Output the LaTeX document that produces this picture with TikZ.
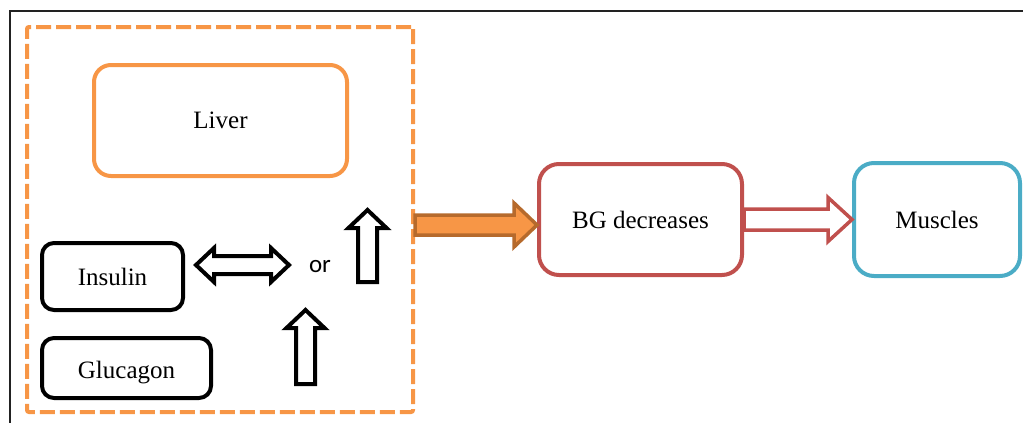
\documentclass[tikz,border=0pt]{standalone}
\usepackage{fontspec}
\setmainfont{Liberation Serif}
\newfontfamily\orfont{Carlito}
\usetikzlibrary{calc}
\definecolor{accorange}{HTML}{F79646}
\definecolor{darkorng}{HTML}{B66A2C}
\definecolor{accred}{HTML}{C0504D}
\definecolor{accblue}{HTML}{4BACC6}
\definecolor{framegray}{HTML}{222222}
\tikzset{
  box/.style={draw, line width=4pt, inner sep=0pt, font=\fontsize{25}{30}\selectfont, align=center},
  hollowarrow/.style={draw=black, fill=white, line width=4pt, line join=miter},
}
\begin{document}
\begin{tikzpicture}[x=1pt, y=-1pt]
\useasboundingbox (0,0) rectangle (1023,423);
% outer frame (partially visible)
\coordinate (fbl) at (10,423);
\coordinate (ftl) at (10,10.5);
\coordinate (ftr) at (1023,10.5);
\draw[framegray, line width=2pt] (fbl) -- (ftl) -- (ftr);
% dashed group
\node[draw=accorange, line width=4pt, dash pattern=on 15pt off 5pt, rounded corners=2pt,
      minimum width=386pt, minimum height=385pt, inner sep=0pt] (group) at (220,219.5) {};
% boxes
\node[box, draw=accorange, rounded corners=17pt, minimum width=253pt, minimum height=111pt] (liver) at (220.5,120.5) {Liver};
\node[box, draw=black, rounded corners=12pt, minimum width=141pt, minimum height=67pt] (insulin) at (112.5,276.5) {Insulin};
\node[box, draw=black, rounded corners=12pt, minimum width=169pt, minimum height=60pt, text depth=0pt] (glucagon) at (126.5,368) {\raisebox{-3pt}{Glucagon}};
\node[box, draw=accred, rounded corners=20pt, minimum width=203pt, minimum height=111pt] (bg) at (640.5,219.5) {BG decreases};
\node[box, draw=accblue, rounded corners=20pt, minimum width=166pt, minimum height=113pt] (muscles) at (937,219.5) {Muscles};
\node[font=\orfont\fontsize{25}{30}\selectfont, inner sep=0pt] (or) at (320,267) {or};
% orange block arrow: group -> bg
\coordinate (oT) at (group.east |- 0,225);
\coordinate (oH) at (bg.west |- 0,225);
\draw[draw=darkorng, fill=accorange, line width=3.5pt, line join=miter]
  ($(oT)+(0,-10)$) -- ($(oH)+(-23,-10)$) -- ($(oH)+(-23,-22)$) -- (oH)
  -- ($(oH)+(-23,22)$) -- ($(oH)+(-23,10)$) -- ($(oT)+(0,10)$) -- cycle;
% red hollow arrow: bg -> muscles
\coordinate (rT) at (bg.east);
\coordinate (rH) at (muscles.west);
\draw[draw=accred, fill=white, line width=3.5pt, line join=miter]
  ($(rT)+(0,-10.5)$) -- ($(rH)+(-24,-10.5)$) -- ($(rH)+(-24,-22)$) -- (rH)
  -- ($(rH)+(-24,22)$) -- ($(rH)+(-24,10.5)$) -- ($(rT)+(0,10.5)$) -- cycle;
% double arrow
\coordinate (dl) at (196,265);
\coordinate (dr) at (289,265);
\draw[hollowarrow]
  (dl) -- ($(dl)+(18,-17)$) -- ($(dl)+(18,-9)$) -- ($(dr)+(-18,-9)$) -- ($(dr)+(-18,-17)$)
  -- (dr) -- ($(dr)+(-18,17)$) -- ($(dr)+(-18,9)$) -- ($(dl)+(18,9)$) -- ($(dl)+(18,17)$) -- cycle;
% up arrow 1
\coordinate (u1) at (367.5,210);
\draw[hollowarrow]
  (u1) -- ($(u1)+(19,18)$) -- ($(u1)+(9.5,18)$) -- ($(u1)+(9.5,72)$) -- ($(u1)+(-9.5,72)$)
  -- ($(u1)+(-9.5,18)$) -- ($(u1)+(-19,18)$) -- cycle;
% up arrow 2
\coordinate (u2) at (305.5,310);
\draw[hollowarrow]
  (u2) -- ($(u2)+(19,18)$) -- ($(u2)+(9.5,18)$) -- ($(u2)+(9.5,74)$) -- ($(u2)+(-9.5,74)$)
  -- ($(u2)+(-9.5,18)$) -- ($(u2)+(-19,18)$) -- cycle;
\end{tikzpicture}
\end{document}
